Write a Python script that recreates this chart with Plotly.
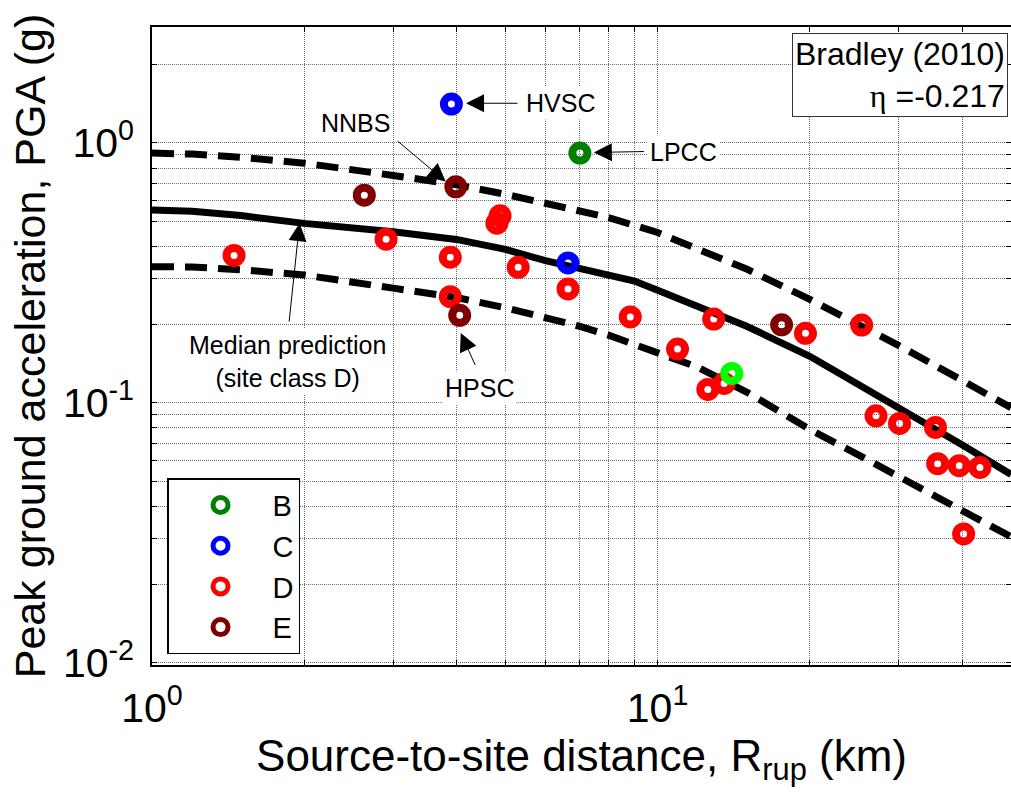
import numpy as np
import plotly.graph_objects as go

# ---------------- data ----------------
dist_curve = [1, 1.2, 1.5, 2, 3, 4, 5, 6, 7, 8, 9, 10, 12, 15, 20, 25, 30, 40, 50]
pga_median = [0.552, 0.546, 0.525, 0.49, 0.455, 0.425, 0.389, 0.352, 0.329, 0.31, 0.294,
              0.271, 0.236, 0.197, 0.151, 0.118, 0.0965, 0.069, 0.053]
pga_upper = [0.913, 0.905, 0.88, 0.835, 0.749, 0.69, 0.634, 0.587, 0.55, 0.516, 0.481,
             0.452, 0.39, 0.327, 0.25, 0.201, 0.166, 0.122, 0.0958]
pga_lower = [0.334, 0.333, 0.325, 0.31, 0.276, 0.254, 0.232, 0.213, 0.197, 0.182, 0.168,
             0.156, 0.137, 0.110, 0.079, 0.0629, 0.0522, 0.0386, 0.0305]

site_B_r = [7.02]
site_B_pga = [0.913]
site_C_r = [3.91, 6.65]
site_C_pga = [1.409, 0.345]
site_D_r = [1.453, 2.904, 3.89, 3.89, 4.88, 4.81, 5.30, 6.65, 8.83, 10.95, 12.91, 12.57,
            13.54, 19.61, 25.33, 27.04, 30.1, 35.45, 35.8, 39.5, 43.4, 40.3]
site_D_pga = [0.369, 0.426, 0.363, 0.256, 0.524, 0.491, 0.332, 0.274, 0.214, 0.161, 0.21,
              0.1125, 0.1187, 0.185, 0.199, 0.0891, 0.0833, 0.0804, 0.0583, 0.0573, 0.0564, 0.0313]
site_E_r = [2.63, 3.99, 4.06, 17.59]
site_E_pga = [0.629, 0.677, 0.217, 0.1995]
highlight_r = [14.02]
highlight_pga = [0.1297]

x_tickvals = [1, 2, 3, 4, 5, 6, 7, 8, 9, 10, 20, 30, 40, 50]
x_ticklabels = {1: "10<sup>0</sup>", 10: "10<sup>1</sup>"}
y_tickvals = [0.01, 0.02, 0.03, 0.04, 0.05, 0.06, 0.07, 0.08, 0.09,
              0.1, 0.2, 0.3, 0.4, 0.5, 0.6, 0.7, 0.8, 0.9, 1, 2]
y_ticklabels = {0.01: "10<sup>-2</sup>", 0.1: "10<sup>-1</sup>", 1: "10<sup>0</sup>"}

FONT = "Arial, Liberation Sans, Helvetica, sans-serif"

fig = go.Figure()

# curves
curve_w = 7
fig.add_trace(go.Scatter(x=dist_curve, y=pga_upper, mode="lines", showlegend=False,
                         line=dict(color="black", width=curve_w, dash="22px,11px")))
fig.add_trace(go.Scatter(x=dist_curve, y=pga_lower, mode="lines", showlegend=False,
                         line=dict(color="black", width=curve_w, dash="22px,11px")))
fig.add_trace(go.Scatter(x=dist_curve, y=pga_median, mode="lines", showlegend=False,
                         line=dict(color="black", width=curve_w)))

def ring(color):
    return dict(symbol="circle-open", size=15, color=color, line=dict(width=8))

fig.add_trace(go.Scatter(x=site_D_r, y=site_D_pga, mode="markers", name="D",
                         marker=ring("#FF0000"), legendrank=3))
fig.add_trace(go.Scatter(x=site_E_r, y=site_E_pga, mode="markers", name="E",
                         marker=ring("#800000"), legendrank=4))
fig.add_trace(go.Scatter(x=site_C_r, y=site_C_pga, mode="markers", name="C",
                         marker=ring("#0000FF"), legendrank=2))
fig.add_trace(go.Scatter(x=site_B_r, y=site_B_pga, mode="markers", name="B",
                         marker=ring("#008000"), legendrank=1))
fig.add_trace(go.Scatter(x=highlight_r, y=highlight_pga, mode="markers", showlegend=False,
                         marker=ring("#00FF00")))

L = np.log10
ann_font = dict(family=FONT, size=25, color="black")

def label(text, x, y):
    fig.add_annotation(x=L(x), y=L(y), xref="x", yref="y", text=text, showarrow=False,
                       font=ann_font, bgcolor="white", borderpad=2)

def arrow(x0, y0, x1, y1):
    fig.add_annotation(x=L(x1), y=L(y1), ax=L(x0), ay=L(y0), xref="x", yref="y",
                       axref="x", ayref="y", text="", showarrow=True, arrowhead=2,
                       arrowsize=3.6, arrowwidth=1, arrowcolor="black")

label("NNBS", 2.53, 1.19)
arrow(3.04, 1.027, 3.81, 0.71)
label("HVSC", 6.43, 1.42)
arrow(5.32, 1.42, 4.18, 1.42)
label("LPCC", 11.25, 0.926)
arrow(9.46, 0.926, 7.48, 0.918)
label("Median prediction<br>(site class D)", 1.857, 0.144)
arrow(1.866, 0.2025, 1.958, 0.491)
label("HPSC", 4.44, 0.1139)
arrow(4.37, 0.138, 4.08, 0.1854)

fig.add_annotation(xref="paper", yref="paper", x=0.9965, y=0.9906, xanchor="right", yanchor="top",
                   text="Bradley (2010)<br><span style='font-family:Liberation Serif, DejaVu Serif'>η</span> =-0.217",
                   align="right", showarrow=False, bgcolor="white", bordercolor="#333",
                   borderwidth=1, borderpad=2, font=dict(family=FONT, size=32, color="black"))

grid = dict(showgrid=True, gridcolor="#6f6f6f", gridwidth=1, griddash="1px,1px")
axis_common = dict(type="log", showline=True, linecolor="black", linewidth=1.5, mirror="allticks",
                   ticks="inside", ticklen=5, tickcolor="black", zeroline=False,
                   tickfont=dict(family=FONT, size=41, color="black"), **grid)

fig.update_xaxes(range=[0, L(50)], tickmode="array", tickvals=x_tickvals,
                 ticktext=[x_ticklabels.get(v, "") for v in x_tickvals],
                 ticklabelstandoff=6,
                 title=dict(text="Source-to-site distance, R<sub>rup</sub> (km)",
                            font=dict(family=FONT, size=44, color="black"), standoff=4),
                 **axis_common)
fig.update_yaxes(range=[L(0.0098), L(2.79)], tickmode="array", tickvals=y_tickvals,
                 ticktext=[y_ticklabels.get(v, "") for v in y_tickvals],
                 ticklabelstandoff=8,
                 title=dict(text="Peak ground acceleration, PGA (g)",
                            font=dict(family=FONT, size=43, color="black"), standoff=4),
                 **axis_common)

fig.update_layout(
    width=1011, height=798,
    margin=dict(l=152, r=0, t=27, b=133, autoexpand=False),
    plot_bgcolor="white", paper_bgcolor="white",
    legend=dict(x=0.0175, y=0.017, xanchor="left", yanchor="bottom",
                bgcolor="white", bordercolor="black", borderwidth=1.5,
                font=dict(family=FONT, size=29, color="black"),
                itemwidth=94, entrywidth=60, entrywidthmode="pixels", tracegroupgap=0),
    showlegend=True,
)

fig.write_html("out.html", config={"displayModeBar": False},
               post_script="document.body.style.margin='0';document.body.style.overflow='hidden';")
